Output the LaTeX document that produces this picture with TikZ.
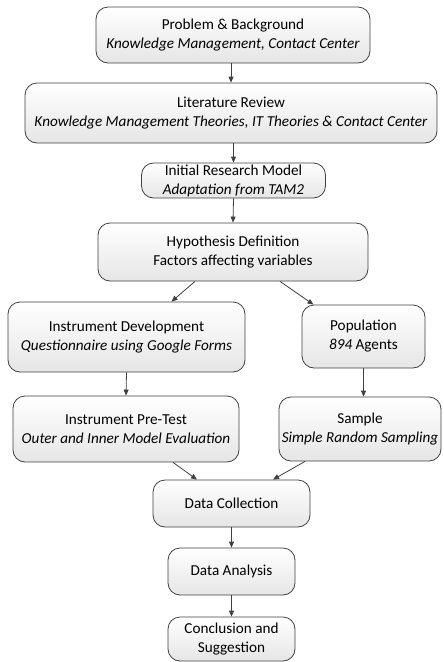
\documentclass[tikz,border=0pt]{standalone}
\usepackage{fontspec}
\setmainfont{Carlito}
\usetikzlibrary{arrows.meta, positioning}
\definecolor{edgegray}{HTML}{404040}

\begin{document}
\begin{tikzpicture}[x=1pt, y=-1pt,
    stage/.style={draw=edgegray, line width=0.8pt, rounded corners=12pt,
        top color=white, bottom color=gray!20, align=center,
        font=\fontsize{15.2}{19}\selectfont, inner sep=1pt},
    flow/.style={draw=edgegray, line width=0.8pt,
        -{Triangle[length=6pt, width=5pt]}}]
    \useasboundingbox (0,0) rectangle (444,662);

    % Nodes
    \node (prob) at (233, 35)[stage, minimum width=274, minimum height=56]
        {Problem \& Background\\ \textit{Knowledge Management, Contact Center}};
    \node (lit) at (231, 113)[stage, minimum width=412, minimum height=60]
        {Literature Review\\ \textit{Knowledge Management Theories, IT Theories \& Contact Center}};
    \node (init) at (233.5, 180.5)[stage, minimum width=184, minimum height=35]
        {Initial Research Model\\ \textit{Adaptation from TAM2}};
    \node (hyp) at (233, 252)[stage, minimum width=270, minimum height=58]
        {Hypothesis Definition\\ Factors affecting variables};
    \node (idev) at (126.5, 337)[stage, minimum width=237, minimum height=70]
        {Instrument Development\\ \textit{Questionnaire using Google Forms}};
    \node (pop) at (363.5, 336.5)[stage, minimum width=123, minimum height=63]
        {Population\\ \textit{894} Agents};
    \node (ipre) at (126, 429)[stage, minimum width=226, minimum height=66]
        {Instrument Pre-Test\\ \textit{Outer and Inner Model Evaluation}};
    \node (samp) at (360, 429)[stage, minimum width=162, minimum height=64]
        {Sample\\ \textit{Simple Random Sampling}};
    \node (dcol) at (231.5, 503.5)[stage, minimum width=157, minimum height=47]
        {Data Collection};
    \node (dana) at (231.5, 571.5)[stage, minimum width=127, minimum height=47]
        {Data Analysis};
    \node (conc) at (231.5, 639)[stage, minimum width=127, minimum height=44]
        {Conclusion and\\ Suggestion};

    % edges
    \draw[flow] (prob.south -| lit.north) -- (lit.north);
    \draw[flow] (lit.south -| init.north) -- (init.north);
    \draw[flow] (init.south) -- (hyp.north);
    \draw[flow] ([xshift=-38pt]hyp.south) -- ([xshift=45pt]idev.north);
    \draw[flow] ([xshift=47pt]hyp.south) -- ([xshift=-50pt]pop.north);
    \draw[flow] (idev.south) -- (ipre.south |- ipre.north);
    \draw[flow] (pop.south) -- (pop.south |- samp.north);
    \draw[flow] ([xshift=47pt]ipre.south) -- ([xshift=-34.5pt]dcol.north);
    \draw[flow] ([xshift=-55pt]samp.south) -- ([xshift=41.5pt]dcol.north);
    \draw[flow] (dcol.south) -- (dana.north);
    \draw[flow] (dana.south) -- (conc.north);

\end{tikzpicture}
\end{document}
